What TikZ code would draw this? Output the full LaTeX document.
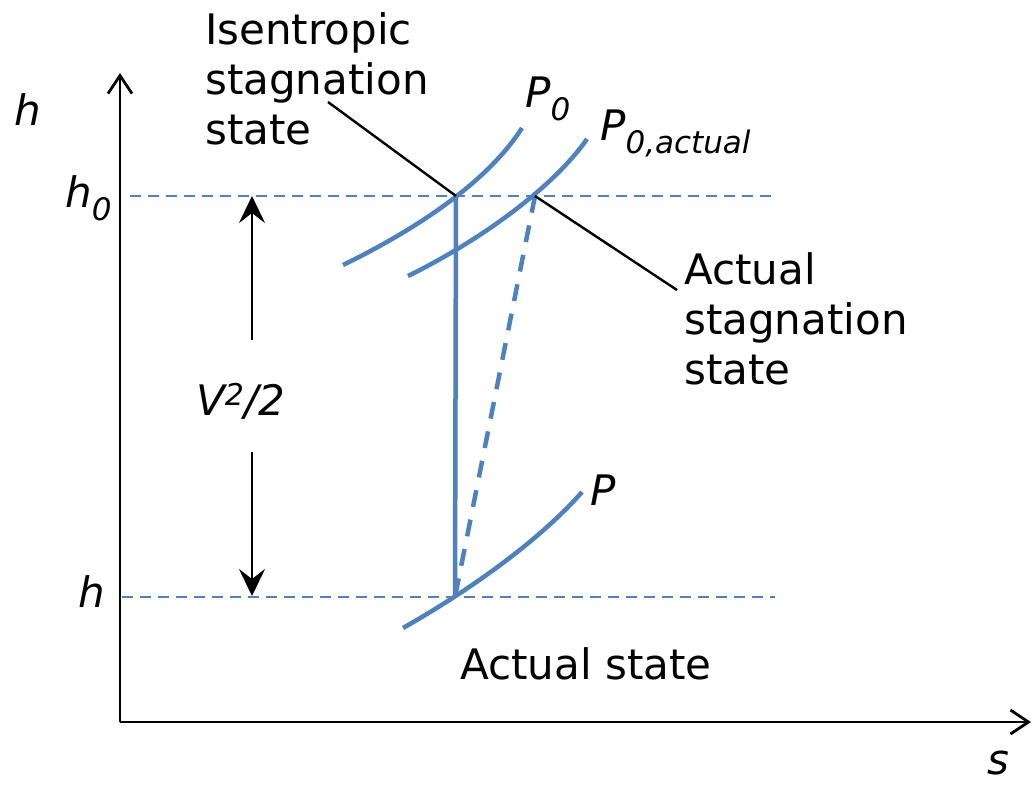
\documentclass[tikz,border=0pt]{standalone}
\usepackage{fontspec}
\setmainfont{DejaVu Sans}
\usetikzlibrary{arrows.meta}
\definecolor{curveblue}{RGB}{79,129,189}
\newcommand{\subtxt}[1]{\raisebox{-13pt}{\fontsize{31}{31}\selectfont\itshape #1}}
\tikzset{
  lab/.style={inner sep=0pt, font=\fontsize{42}{50}\selectfont, align=left},
  axisline/.style={line width=2.8pt, -{Straight Barb[length=18pt,width=24pt,line width=2.8pt]}},
  bluecurve/.style={curveblue, line width=4.5pt},
  levelline/.style={curveblue, line width=2.8pt, dash pattern=on 11pt off 7pt},
  slantdash/.style={curveblue, line width=4.5pt, dash pattern=on 17pt off 13pt},
  leader/.style={line width=2.4pt},
  velarrow/.style={line width=2.8pt, -{Stealth[length=27pt,width=26pt,inset=10pt]}}
}
\begin{document}
\begin{tikzpicture}[x=1pt,y=-1pt]
\useasboundingbox (0,0) rectangle (1033,785);
% state points
\coordinate (iso) at (456,196);
\coordinate (act) at (535,196);
\coordinate (st) at (455,597);
\coordinate (origin) at (120,722);
\coordinate (ytip) at (120,73);
\coordinate (xtip) at (1031,722);
% axes
\draw[axisline] (origin) -- (ytip);
\draw[axisline] (origin) -- (xtip);
% level lines
\coordinate (h0l) at (130,196);
\coordinate (h0r) at (775,196);
\coordinate (hl) at (122,597);
\coordinate (hr) at (775,597);
\draw[levelline] (h0l) -- (h0r);
\draw[levelline] (hl) -- (hr);
% isobars
\draw[bluecurve] (343,265) .. controls (425,225) and (490,178) .. (522,128);
\draw[bluecurve] (408,276) .. controls (485,238) and (555,185) .. (587,139);
\draw[bluecurve] (403,628) .. controls (470,590) and (540,540) .. (582,492);
% processes
\draw[bluecurve] (iso) -- (st);
\draw[slantdash] (act) -- (st);
% velocity arrows
\coordinate (va1) at (252,340);
\coordinate (va2) at (252,196);
\coordinate (vb1) at (252,452);
\coordinate (vb2) at (252,596);
\draw[velarrow] (va1) -- (va2);
\draw[velarrow] (vb1) -- (vb2);
% labels
\node[lab, anchor=north west] (isolab) at (205,12) {Isentropic\\stagnation\\state};
\node[lab, anchor=north west] (actlab) at (684,252) {Actual\\stagnation\\state};
\node[lab, anchor=base west] (stlab) at (460,679) {Actual state};
\coordinate (lead1) at (328,102);
\coordinate (lead2) at (677,290);
\draw[leader] (lead1) -- (iso);
\draw[leader] (act) -- (lead2);
\node[lab, anchor=base west] (haxis) at (14,125) {\itshape h};
\node[lab, anchor=base west] (saxis) at (987,774) {\itshape s};
\node[lab, anchor=base west] (h0lab) at (65,207) {\itshape h\subtxt{0}};
\node[lab, anchor=base west] (hlab) at (78,607) {\itshape h};
\node[lab, anchor=base west] (vlab) at (196,415) {\itshape V\raisebox{10pt}{\fontsize{30}{30}\selectfont 2}/2};
\node[lab, anchor=base west] (p0lab) at (525,107) {\itshape P\subtxt{0}};
\node[lab, anchor=base west] (p0alab) at (600,140) {\itshape P\subtxt{0,actual}};
\node[lab, anchor=base west] (plab) at (590,505) {\itshape P};
\end{tikzpicture}
\end{document}
